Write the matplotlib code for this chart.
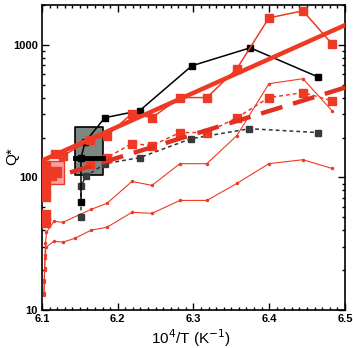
import matplotlib
matplotlib.use("Agg")
import matplotlib.pyplot as plt
from matplotlib.ticker import MultipleLocator, LogLocator, NullFormatter, FixedLocator, FixedFormatter
import numpy as np

plt.rcParams["font.family"] = ["Liberation Sans", "DejaVu Sans"]

# ---- data ----
black_x = [6.1515, 6.1515, 6.157, 6.183, 6.229, 6.298, 6.375, 6.464]
black_q = [65, 141, 185, 282, 319, 695, 949, 574]

gray_x = [6.1515, 6.1515, 6.158, 6.183, 6.229, 6.297, 6.374, 6.464]
gray_q = [50, 86, 102, 127, 141, 196, 233, 218]

redsq_x = [6.1172, 6.1277, 6.1634, 6.1858, 6.2188, 6.2452, 6.2822, 6.3178, 6.3574, 6.3997, 6.4446, 6.4828]
redsq_q = [149, 146, 190, 207, 303, 282, 400, 400, 661, 1596, 1803, 1019]

reddot_x = [6.1634, 6.1858, 6.2188, 6.2452, 6.2822, 6.3178, 6.3574, 6.3997, 6.4446, 6.4828]
reddot_q = [127, 141, 180, 174, 218, 218, 282, 400, 436, 379]

thinA_x = [6.1026, 6.1030, 6.1034, 6.1040, 6.1046, 6.1059, 6.1158, 6.1277, 6.1647, 6.1858,
           6.2188, 6.2452, 6.2822, 6.3178, 6.3574, 6.3997, 6.4446, 6.4828]
thinA_q = [13.4, 16.8, 20.7, 25.9, 31.9, 38.6, 46.7, 45.9, 57.4, 63.8,
           93.3, 87.1, 127, 127, 207, 509, 555, 319]

thinB_x = [6.1026, 6.1030, 6.1034, 6.1040, 6.1053, 6.1158, 6.1277, 6.1436, 6.1647, 6.1858,
           6.2188, 6.2452, 6.2822, 6.3178, 6.3574, 6.3997, 6.4446, 6.4828]
thinB_q = [13.0, 16.3, 20.0, 24.6, 29.8, 33.0, 32.5, 34.8, 40.0, 42.1,
           54.6, 53.6, 67.1, 67.1, 90.2, 127, 136, 117]

left_stack_x = [6.1035, 6.1035, 6.1035, 6.1035, 6.1035, 6.1035, 6.1035, 6.112, 6.119]
left_stack_q = [123, 107, 95, 82.6, 72, 51.8, 45.9, 105, 110]

fit_solid_x = [6.100, 6.504]
fit_solid_q = [134, 1439]
fit_dash_x = [6.137, 6.504]
fit_dash_q = [109, 483]

gray_box = dict(x0=6.1436, x1=6.1805, q0=105, q1=241, qmed=141)
pink_box = dict(x0=6.100, x1=6.129, q0=90, q1=134)

RED = "#ee3a24"

fig = plt.figure(figsize=(3.53, 3.48), dpi=100)
ax = fig.add_axes([0.119, 0.109, 0.858, 0.877])
ax.set_yscale("log")
ax.set_xlim(6.1, 6.5)
ax.set_ylim(10, 2000)

# boxes
ax.fill_between([gray_box["x0"], gray_box["x1"]], gray_box["q0"], gray_box["q1"],
                facecolor="#7d8783", edgecolor="black", linewidth=1.2, zorder=1)
ax.plot([gray_box["x0"], gray_box["x1"]], [gray_box["qmed"]] * 2, color="black", lw=3.5, zorder=6)
ax.fill_between([pink_box["x0"], pink_box["x1"]], pink_box["q0"], pink_box["q1"],
                facecolor="#f7a0a0", edgecolor=RED, linewidth=1.0, zorder=1)

# thin lines
ax.plot(thinA_x, thinA_q, color=RED, lw=0.8, marker="o", ms=1.5, zorder=2)
ax.plot(thinB_x, thinB_q, color=RED, lw=0.8, marker="o", ms=1.5, zorder=2)

# gray dashed
ax.plot(gray_x, gray_q, color="#333333", lw=1.1, ls=(0, (2.5, 2)), marker="s", ms=5,
        mfc="#3a3a3a", mec="#3a3a3a", zorder=3)
# red dotted
ax.plot(reddot_x, reddot_q, color=RED, lw=1.1, ls=(0, (2.5, 2)), marker="s", ms=5.5,
        mfc=RED, mec=RED, zorder=3)
# black solid
ax.plot(black_x, black_q, color="black", lw=1.1, marker="s", ms=5, mfc="black", mec="black", zorder=4)
# red squares
ax.plot(redsq_x, redsq_q, color=RED, lw=1.1, marker="s", ms=5.5, mfc=RED, mec=RED, zorder=4)
# left stack
ax.plot(left_stack_x, left_stack_q, ls="none", marker="s", ms=6.5, mfc=RED, mec=RED, zorder=3)

# fits
ax.plot(fit_solid_x, fit_solid_q, color=RED, lw=3.2, solid_capstyle="butt", zorder=5)
ax.plot(fit_dash_x, fit_dash_q, color="#e03020", lw=3.2, ls=(0, (5, 2.5)), zorder=5)

# ticks
ax.set_xticks([6.1, 6.2, 6.3, 6.4, 6.5])
ax.set_xticklabels(["6.1", "6.2", "6.3", "6.4", "6.5"])
ax.xaxis.set_minor_locator(MultipleLocator(0.01))
ax.yaxis.set_major_locator(FixedLocator([10, 100, 1000]))
ax.yaxis.set_major_formatter(FixedFormatter(["10", "100", "1000"]))
ax.yaxis.set_minor_locator(LogLocator(base=10, subs=np.arange(2, 10)))
ax.yaxis.set_minor_formatter(NullFormatter())
ax.tick_params(which="both", direction="in", top=True, right=True, width=1.0)
ax.tick_params(which="major", length=5, labelsize=8, pad=3)
ax.tick_params(which="minor", length=2.5)
for lab in ax.get_xticklabels() + ax.get_yticklabels():
    lab.set_fontweight("bold")
for s in ax.spines.values():
    s.set_linewidth(1.2)

fig.text(0.54, 0.028, "10$^4$/T (K$^{-1}$)", fontsize=11, ha="center", va="center")
fig.text(0.035, 0.55, "Q*", fontsize=11, ha="center", va="center", rotation=90)

fig.savefig("out.png", dpi=100)
